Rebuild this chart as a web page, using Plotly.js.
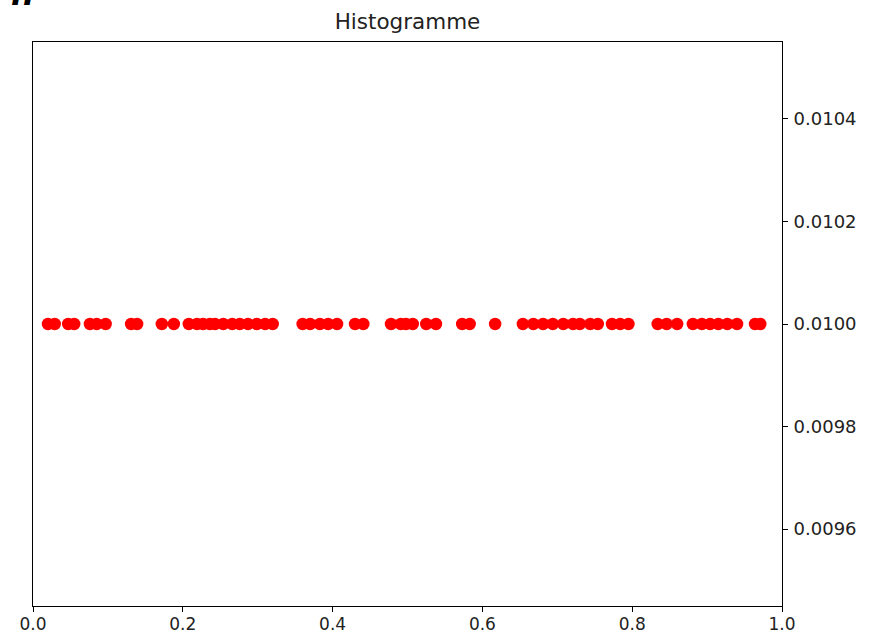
<!DOCTYPE html>
<html>
<head>
<meta charset="utf-8">
<script src="https://cdn.plot.ly/plotly-3.0.1.min.js"></script>
<style>
  html, body { margin: 0; padding: 0; background: #fff; }
  #chart { width: 875px; height: 635px; }
</style>
</head>
<body>
<div id="chart"></div>
<script>
// Sample positions along [0, 1], all drawn at the same height
const samples = [
  0.020, 0.029, 0.047, 0.055, 0.076, 0.085, 0.097, 0.131, 0.139, 0.172,
  0.188, 0.208, 0.219, 0.227, 0.236, 0.243, 0.254, 0.266, 0.276, 0.287,
  0.299, 0.310, 0.320, 0.360, 0.370, 0.383, 0.394, 0.406, 0.430, 0.441,
  0.478, 0.491, 0.498, 0.507, 0.525, 0.538, 0.573, 0.583, 0.617, 0.654,
  0.668, 0.681, 0.694, 0.708, 0.721, 0.730, 0.744, 0.754, 0.773, 0.784,
  0.795, 0.834, 0.846, 0.860, 0.881, 0.893, 0.904, 0.915, 0.927, 0.940,
  0.964, 0.971
];
const level = 0.01;
const heights = samples.map(() => level);

const xTicks = [0.0, 0.2, 0.4, 0.6, 0.8, 1.0];
const yTicks = [0.0096, 0.0098, 0.0100, 0.0102, 0.0104];

const font = "DejaVu Sans, Liberation Sans, sans-serif";

const trace = {
  x: samples,
  y: heights,
  type: "scatter",
  mode: "markers",
  marker: { color: "#ff0000", size: 12.5, line: { width: 0 } },
  hoverinfo: "x"
};

const axisBase = {
  showgrid: false,
  zeroline: false,
  showline: true,
  mirror: true,
  linecolor: "#000",
  linewidth: 1,
  ticks: "outside",
  ticklen: 5,
  tickwidth: 1,
  tickcolor: "#000"
};

const layout = {
  width: 875,
  height: 635,
  margin: { l: 33, r: 93, t: 42, b: 29 },
  paper_bgcolor: "#fff",
  plot_bgcolor: "#fff",
  showlegend: false,
  title: {
    text: "Histogramme",
    font: { family: font, size: 21.5, color: "#222" },
    x: 0.5, xanchor: "center", xref: "paper",
    y: 0.966, yanchor: "middle", yref: "container"
  },
  xaxis: Object.assign({}, axisBase, {
    range: [0, 1],
    tickvals: xTicks,
    tickformat: ".1f",
    tickfont: { family: font, size: 17, color: "#222" },
    ticklabelstandoff: -2
  }),
  yaxis: Object.assign({}, axisBase, {
    range: [0.00945, 0.01055],
    side: "right",
    tickvals: yTicks,
    tickformat: ".4f",
    tickfont: { family: font, size: 18, color: "#222" },
    ticklabelstandoff: 2
  }),
  // partly clipped heading fragment in the top-left corner
  annotations: [{
    text: "<b><i>n</i></b>",
    xref: "paper", yref: "paper",
    x: -0.0134, xanchor: "center",
    y: 1.0475, yanchor: "bottom",
    showarrow: false,
    font: { family: font, size: 32, color: "#000" }
  }]
};

Plotly.newPlot("chart", [trace], layout, { displayModeBar: false, responsive: false });
</script>
</body>
</html>
